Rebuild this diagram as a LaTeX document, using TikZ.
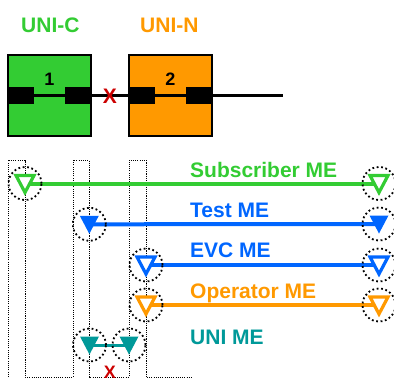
\documentclass[tikz,border=0pt]{standalone}
\usepackage{fontspec}
\setmainfont{Liberation Sans}
\definecolor{subg}{HTML}{33CC33}
\definecolor{opo}{HTML}{FF9900}
\definecolor{evcb}{HTML}{0066FF}
\definecolor{unit}{HTML}{009999}
\definecolor{xred}{HTML}{CC0000}
\begin{document}
\begin{tikzpicture}[x=1pt,y=-1pt,
  lbl/.style={font=\fontsize{21}{25}\selectfont\bfseries, inner sep=0pt, anchor=base west},
  digit/.style={font=\fontsize{18}{22}\selectfont\bfseries, inner sep=0pt, anchor=base},
  unibox/.style={draw=black, line width=1.2pt, minimum width=83pt, minimum height=81pt, inner sep=0pt},
  port/.style={fill=black, minimum width=25.5pt, minimum height=17pt, inner sep=0pt},
  mecirc/.style={circle, draw=black, line width=1.8pt, dash pattern=on 1.8pt off 2.6pt, minimum size=33pt, inner sep=0pt},
  meander/.style={draw=black, line width=1pt, dash pattern=on 1.1pt off 1.1pt},
  meline/.style={line width=4pt},
  redx/.style={font=\fontsize{21}{25}\selectfont\bfseries, text=xred, inner sep=0pt, text height=15pt, text depth=0pt},
  otri/.pic={\draw[pic actions, line width=3.2pt, line join=miter, fill=white] (-9,-8) -- (9,-8) -- (0,9) -- cycle;},
  ftri/.pic={\fill[pic actions] (-9.5,-8.5) -- (9.5,-8.5) -- (0,9.5) -- cycle;}
]
\useasboundingbox (0,0) rectangle (394,384);

% top labels
\node[lbl, text=subg] (unic) at (21,32) {UNI-C};
\node[lbl, text=opo] (unin) at (140,32) {UNI-N};

% boxes
\node[unibox, fill=subg] (b1) at (49.5,95.5) {};
\node[unibox, fill=opo] (b2) at (170.5,95.5) {};
\node[digit] (d1) at (49.5,85) {1};
\node[digit] (d2) at (170.5,85) {2};
\coordinate (lend) at (283,95.5);
\node[port] (p1) at (21,95.5) {};
\draw[line width=3pt] (p1.center) -- (lend);
\node[port] (p1b) at (21,95.5) {};
\node[port] (p2) at (78,95.5) {};
\node[port] (p3) at (142.5,95.5) {};
\node[port] (p4) at (198.5,95.5) {};
\node[redx] (x1) at (110,96) {X};

% meander dotted path
\draw[meander] (8,377) -- (8,160) -- (25,160) -- (25,377) -- (73,377) -- (73,160)
  -- (89,160) -- (89,377) -- (129,377) -- (129,160) -- (146,160) -- (146,377) -- (193,377);

% ME labels
\node[lbl, text=subg] (tsub) at (190,177.7) {Subscriber ME};
\node[lbl, text=evcb] (ttest) at (190,217.7) {Test ME};
\node[lbl, text=evcb] (tevc) at (190,257.7) {EVC ME};
\node[lbl, text=opo] (topr) at (190,298.3) {Operator ME};
\node[lbl, text=unit] (tuni) at (190,344) {UNI ME};

% end points
\coordinate (sl) at (25,183.5);  \coordinate (sr) at (379,183.5);
\coordinate (tl) at (89.3,224.3); \coordinate (tr) at (379,224);
\coordinate (el) at (146,265);   \coordinate (er) at (379,265);
\coordinate (ol) at (146,305);   \coordinate (or) at (379,305);
\coordinate (ul) at (89.5,345);  \coordinate (ur) at (129,345);

\draw[meline, subg] (sl) -- (sr);
\draw[meline, evcb] (tl) -- (tr);
\draw[meline, evcb] (el) -- (er);
\draw[meline, opo] (ol) -- (or);
\draw[line width=3pt, unit] (ul) -- (ur);

% triangles
\pic[draw=subg] at (sl) {otri};
\pic[draw=subg] at (sr) {otri};
\pic[fill=evcb] at (tl) {ftri};
\pic[fill=evcb] at (tr) {ftri};
\pic[draw=evcb] at (el) {otri};
\pic[draw=evcb] at (er) {otri};
\pic[draw=opo] at (ol) {otri};
\pic[draw=opo] at (or) {otri};
\pic[fill=unit] at (ul) {ftri};
\pic[fill=unit] at (ur) {ftri};

% circles
\node[mecirc] (csl) at (sl) {};
\node[mecirc] (csr) at (sr) {};
\node[mecirc] (ctl) at (tl) {};
\node[mecirc] (ctr) at (tr) {};
\node[mecirc] (cel) at (el) {};
\node[mecirc] (cer) at (er) {};
\node[mecirc] (col) at (ol) {};
\node[mecirc] (cor) at (or) {};
\node[mecirc] (cul) at (ul) {};
\node[mecirc] (cur) at (ur) {};

\node[redx, font=\fontsize{18}{22}\selectfont\bfseries, text height=13pt] (x2) at (110,372) {X};
\end{tikzpicture}
\end{document}
